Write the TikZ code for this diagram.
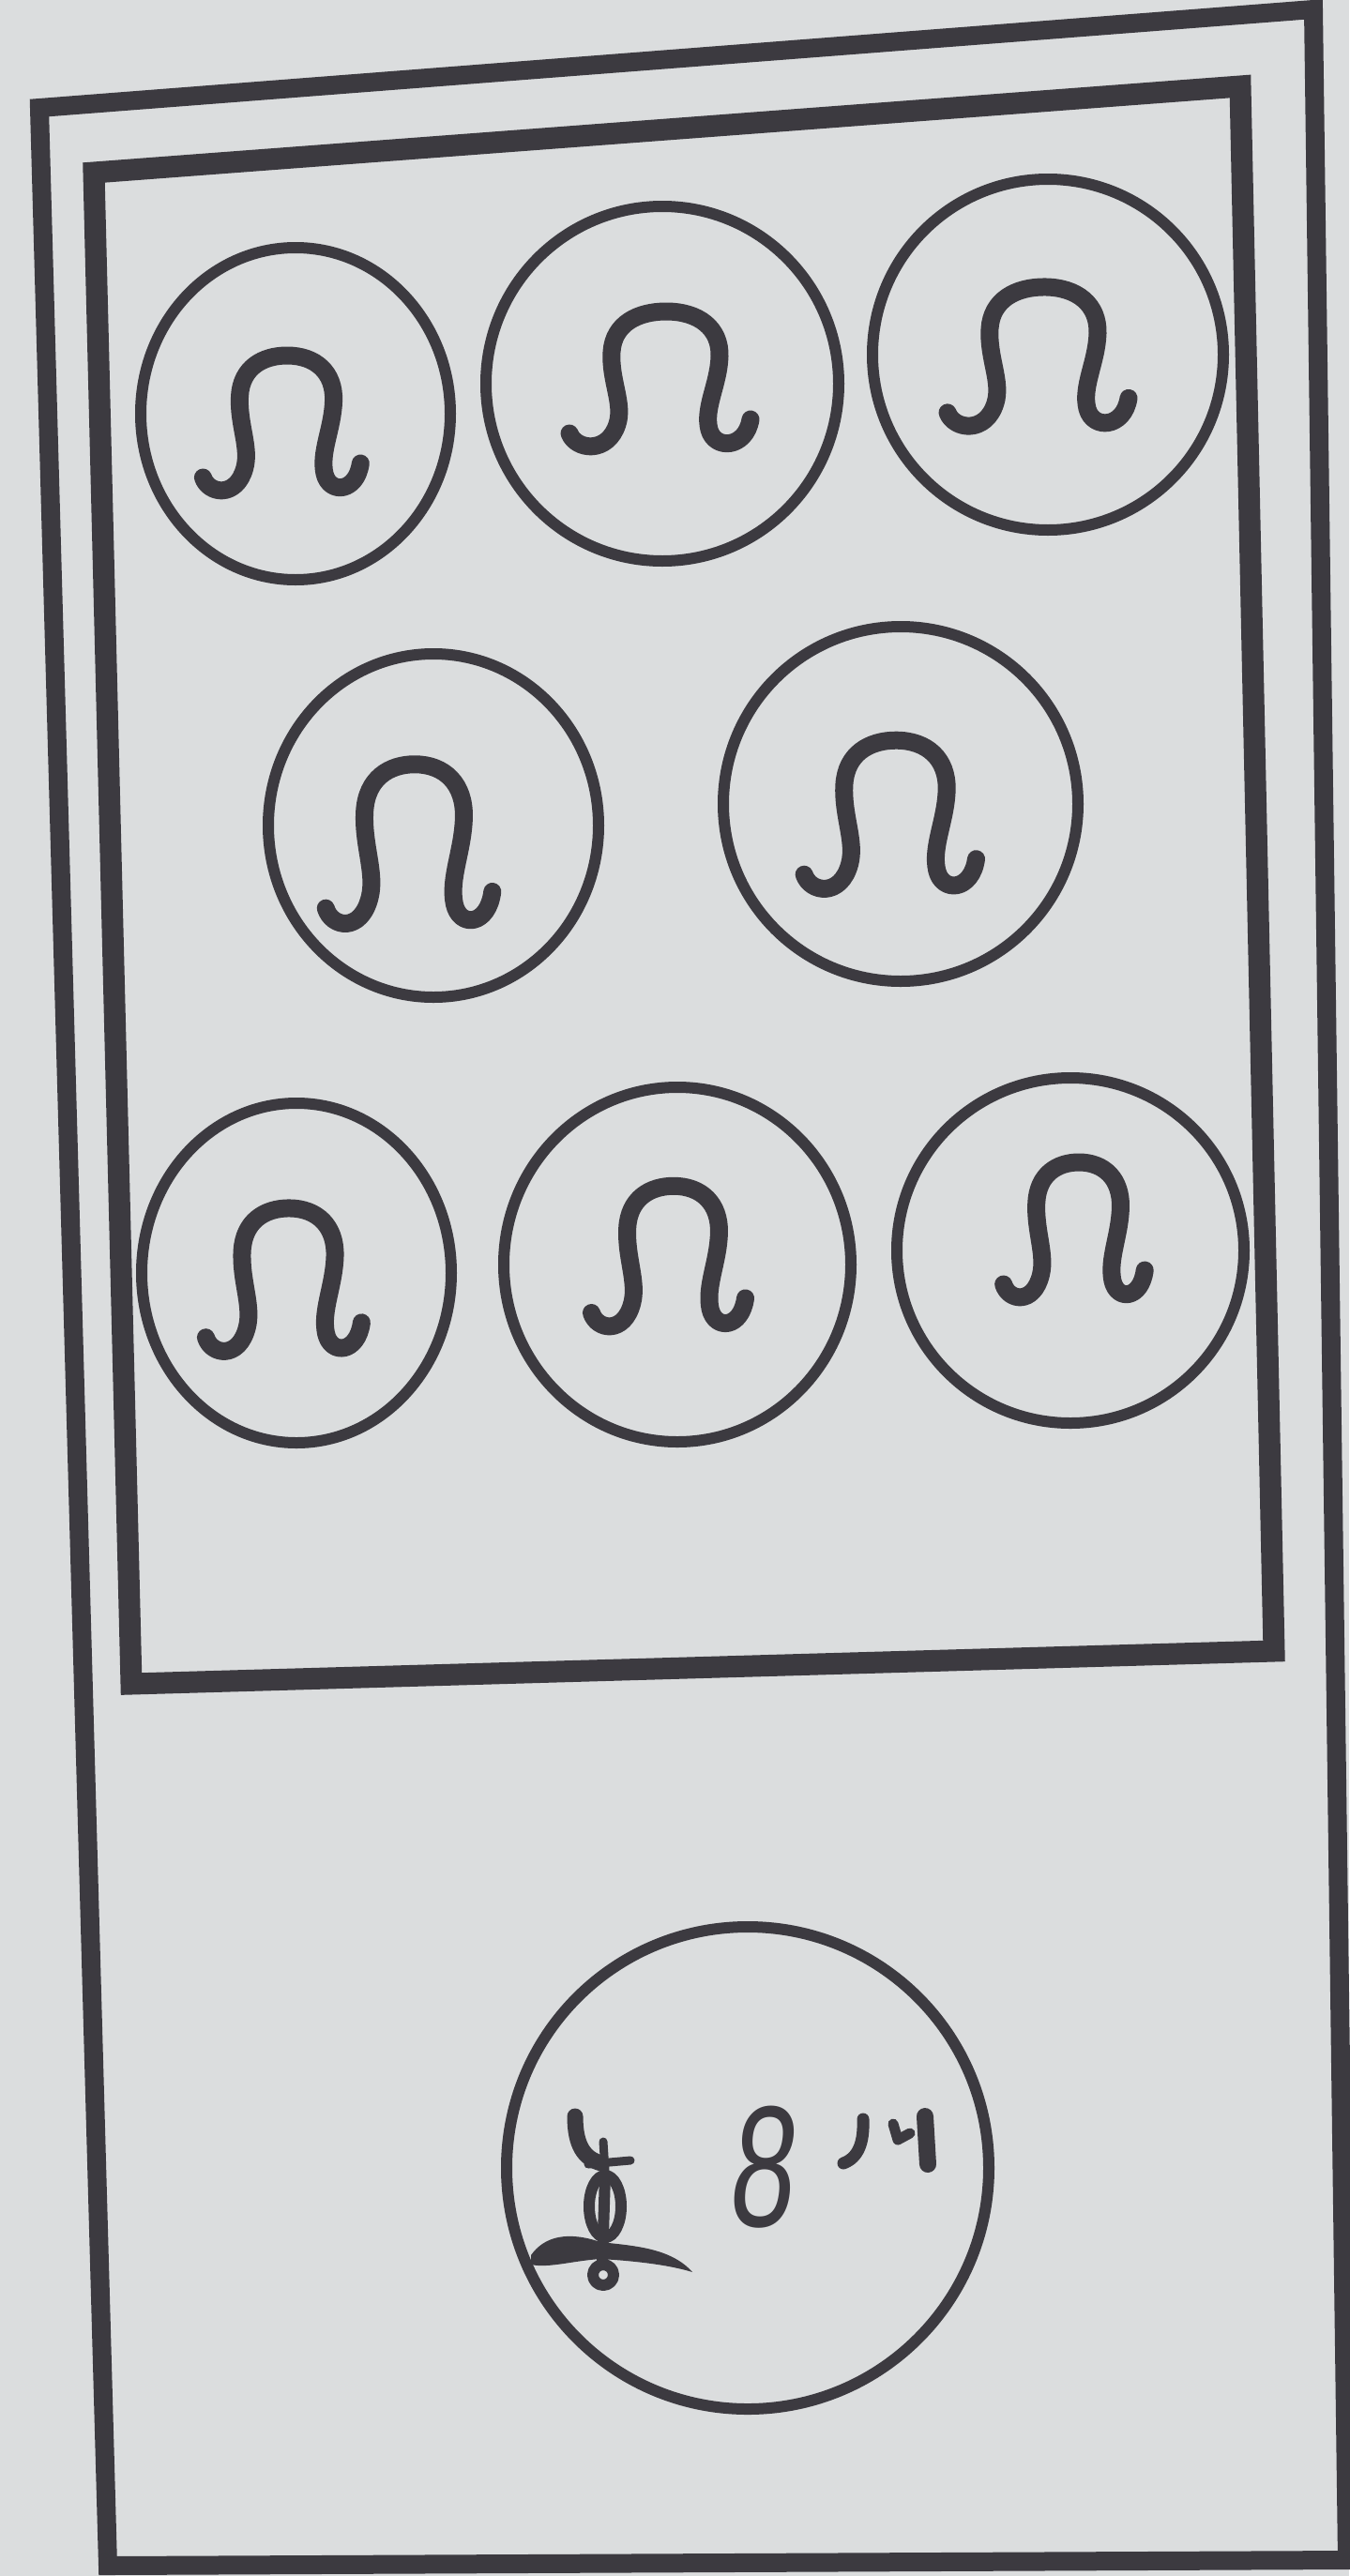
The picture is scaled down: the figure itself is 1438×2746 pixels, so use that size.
\documentclass[tikz,border=0pt]{standalone}
\usepackage{fontspec}
\usetikzlibrary{shapes.geometric}
\newfontfamily\handfont[FakeSlant=0.15]{Liberation Sans}
\definecolor{paper}{RGB}{219,221,222}
\definecolor{ink}{RGB}{60,58,64}
\tikzset{
  frameline/.style={draw=ink, line width=20pt, line join=miter},
  innerline/.style={draw=ink, line width=23pt, line join=miter},
  ring/.style={ellipse, draw=ink, line width=12pt, inner sep=0pt, outer sep=0pt},
  glyphline/.style={draw=ink, line width=19pt, line cap=round, line join=round},
  thinstroke/.style={draw=ink, line width=12pt, line cap=round, line join=round},
}
\newcommand{\drawglyph}[4]{%
  \begin{scope}[shift={(#1,#2)}, xscale=#3, yscale=#4]
    \draw[glyphline] (-103,62)
      .. controls (-96,80) and (-62,84) .. (-52,52)
      .. controls (-45,30) and (-60,5) .. (-58,-25)
      .. controls (-56,-55) and (-30,-68) .. (0,-68)
      .. controls (35,-68) and (58,-50) .. (57,-20)
      .. controls (56,10) and (40,35) .. (46,58)
      .. controls (52,80) and (85,78) .. (90,47);
  \end{scope}}
\begin{document}
\begin{tikzpicture}[x=1pt, y=-1pt]
  \fill[paper] (0,0) rectangle (1438,2746);
  \useasboundingbox (0,0) rectangle (1438,2746);

  % outer and inner frames
  \draw[frameline] (42,115) -- (1400,10) -- (1436,2729) -- (115,2735) -- cycle;
  \draw[innerline] (100,184) -- (1322,92) -- (1358,1760) -- (140,1795) -- cycle;

  % circles
  \node[ring, minimum width=330pt, minimum height=354pt] (c1) at (315,441) {};
  \node[ring, minimum width=376pt, minimum height=378pt] (c2) at (706,409) {};
  \node[ring, minimum width=374pt, minimum height=374pt] (c3) at (1117,378) {};
  \node[ring, minimum width=352pt, minimum height=366pt] (c4) at (462,880) {};
  \node[ring, minimum width=378pt, minimum height=378pt] (c5) at (960,857) {};
  \node[ring, minimum width=330pt, minimum height=362pt] (c6) at (316,1357) {};
  \node[ring, minimum width=370pt, minimum height=378pt] (c7) at (722,1348) {};
  \node[ring, minimum width=370pt, minimum height=368pt] (c8) at (1141,1333) {};
  \node[ring, minimum width=514pt, minimum height=514pt] (c9) at (797,2311) {};

  % arch glyphs
  \drawglyph{306}{447}{0.87}{1.0}
  \drawglyph{710}{400}{1.0}{1.0}
  \drawglyph{1113}{376}{1.0}{1.03}
  \drawglyph{442}{895}{0.92}{1.18}
  \drawglyph{955}{864}{0.95}{1.1}
  \drawglyph{308}{1360}{0.86}{1.06}
  \drawglyph{718}{1335}{0.85}{1.04}
  \drawglyph{1150}{1307}{0.78}{1.0}

  % bottom circle contents
  \node[text=ink, inner sep=0pt, xscale=0.68] (eight) at (809,2310)
    {\handfont\fontsize{184}{184}\selectfont 8};

  % left knotted symbol
  \draw[glyphline, line width=17pt] (613,2256) .. controls (613,2286) and (622,2301) .. (641,2306);
  \draw[thinstroke, line width=9pt] (643,2283) -- (645,2314);
  \draw[thinstroke, line width=9pt] (627,2307) -- (672,2303);
  \draw[thinstroke] (645,2352) ellipse[x radius=17, y radius=33];
  \draw[thinstroke] (645,2318) -- (642,2414);
  \draw[thinstroke] (643,2425) circle[radius=11];
  \fill[ink] (566,2404) .. controls (580,2384) and (605,2378) .. (640,2390)
     .. controls (675,2394) and (715,2396) .. (738,2422)
     .. controls (712,2414) and (675,2410) .. (640,2408)
     .. controls (610,2410) and (585,2418) .. (566,2414) -- cycle;

  % right small strokes
  \draw[thinstroke, line width=13pt] (920,2259) .. controls (921,2284) and (915,2300) .. (899,2306);
  \draw[thinstroke, line width=11pt] (952,2264) -- (957,2281) -- (970,2274);
  \draw[glyphline, line width=18pt] (986,2256) -- (989,2307);
\end{tikzpicture}
\end{document}
